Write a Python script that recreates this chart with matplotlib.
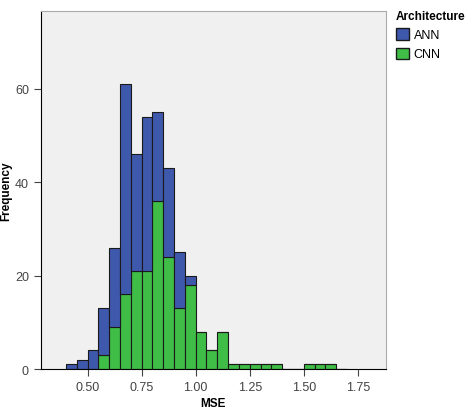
import matplotlib
matplotlib.use("Agg")
import matplotlib.pyplot as plt
import numpy as np
from matplotlib.patches import Patch

plt.rcParams['font.family'] = ['Liberation Sans', 'DejaVu Sans']

bin_left = np.round(np.arange(0.40, 1.70, 0.05), 2)
# bins 0.40 ... 1.65
total = [1, 2, 4, 13, 26, 61, 46, 54, 55, 43, 25, 20, 8, 4, 8, 1, 1, 1, 1, 1, 0, 0, 1, 1, 1, 0]
cnn   = [0, 0, 0, 3, 9, 16, 21, 21, 36, 24, 13, 18, 8, 4, 8, 1, 1, 1, 1, 1, 0, 0, 1, 1, 1, 0]
ann = [t - c for t, c in zip(total, cnn)]
width = 0.05

fig = plt.figure(figsize=(4.74, 4.14), dpi=100)
ax = fig.add_axes([0.086, 0.106, 0.728, 0.865])
ax.set_facecolor("#f0f0f0")
blue = "#3e58ac"; green = "#3fbd47"
ax.bar(bin_left, cnn, width=width, align="edge", color=green, edgecolor="#1a1a1a", linewidth=0.8)
ax.bar(bin_left, ann, bottom=cnn, width=width, align="edge", color=blue, edgecolor="#1a1a1a", linewidth=0.8)
ax.set_xlim(0.283, 1.88)
ax.set_ylim(0, 76.7)
ax.set_xticks([0.50, 0.75, 1.00, 1.25, 1.50, 1.75])
ax.set_xticklabels(["0.50", "0.75", "1.00", "1.25", "1.50", "1.75"])
ax.set_yticks([0, 20, 40, 60])
ax.tick_params(labelsize=9, colors="#444444", length=5)
for s in ["top", "right"]:
    ax.spines[s].set_color("#aaaaaa")
ax.set_xlabel("MSE", fontsize=8.5, fontweight="bold", labelpad=3)
ax.set_ylabel("Frequency", fontsize=8.5, fontweight="bold", labelpad=2)
handles = [Patch(facecolor=blue, edgecolor="#1a1a1a", label="ANN"),
           Patch(facecolor=green, edgecolor="#1a1a1a", label="CNN")]
leg = fig.legend(handles=handles, loc="upper left", bbox_to_anchor=(0.825, 0.985),
                 title="Architecture", frameon=False, fontsize=9,
                 title_fontproperties={"weight": "bold", "size": 8.5},
                 handlelength=1.0, handleheight=1.0, borderaxespad=0, handletextpad=0.4)
leg._legend_box.align = "left"
fig.savefig("out.png", dpi=100)
